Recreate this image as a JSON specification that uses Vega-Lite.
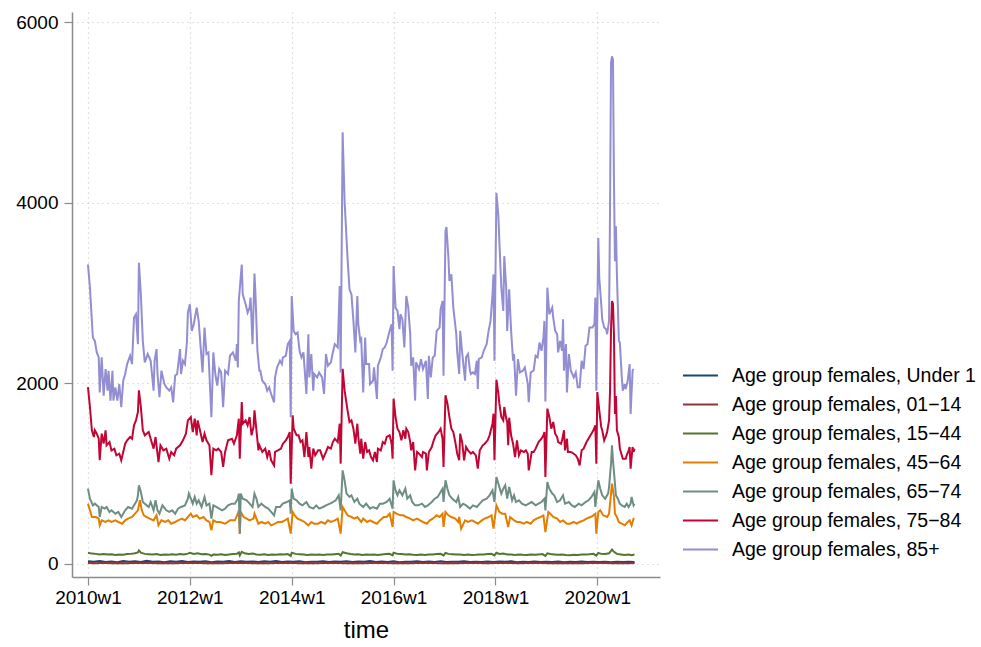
{
"$schema": "https://vega.github.io/schema/vega-lite/v6.json",
"autosize": {"type": "none"},
"padding": {"left": 72, "top": 12, "right": 321, "bottom": 70},
"width": 588,
"height": 565,
"background": "white",
"config": {
  "font": "Liberation Sans",
  "view": {"stroke": null},
  "axis": {"labelFont": "Liberation Sans", "titleFont": "Liberation Sans", "labelColor": "#000", "titleColor": "#000", "domainColor": "#8c8c8c", "domainWidth": 1.5, "tickColor": "#8c8c8c", "tickWidth": 1.2, "tickSize": 8, "gridColor": "#c4c4c4", "gridDash": [1, 4], "gridWidth": 1.2, "labelFontSize": 19, "titleFontWeight": "normal"},
  "legend": {"labelFont": "Liberation Sans", "labelFontSize": 19.5, "labelColor": "#000", "padding": 0, "labelLimit": 0}
},
"encoding": {
  "x": {"field": "t", "type": "quantitative", "scale": {"domain": [-16.3, 584], "nice": false, "zero": false}, "axis": {"values": [0, 104, 208, 312, 416, 520], "labelExpr": "(2010 + floor(datum.value/52)) + 'w1'", "title": "time", "titleFontSize": 24, "titlePadding": 11, "labelPadding": 3, "grid": true}},
  "y": {"field": "v", "type": "quantitative", "scale": {"domain": [-144, 6111], "nice": false, "zero": false}, "axis": {"values": [0, 2000, 4000, 6000], "format": "d", "title": null, "grid": true, "labelPadding": 6}}
},
"layer": [
{"data": {"values": [{"t":0,"v":30},{"t":6,"v":24},{"t":12,"v":34},{"t":18,"v":22},{"t":24,"v":28},{"t":30,"v":20},{"t":36,"v":32},{"t":42,"v":25},{"t":48,"v":30},{"t":54,"v":22},{"t":60,"v":35},{"t":66,"v":24},{"t":72,"v":28},{"t":78,"v":20},{"t":84,"v":30},{"t":90,"v":26},{"t":96,"v":33},{"t":102,"v":22},{"t":108,"v":28},{"t":114,"v":24},{"t":120,"v":30},{"t":126,"v":20},{"t":132,"v":27},{"t":138,"v":25},{"t":144,"v":32},{"t":150,"v":22},{"t":156,"v":30},{"t":162,"v":24},{"t":168,"v":28},{"t":174,"v":21},{"t":180,"v":30},{"t":186,"v":25},{"t":192,"v":33},{"t":198,"v":22},{"t":204,"v":28},{"t":210,"v":24},{"t":216,"v":30},{"t":222,"v":20},{"t":228,"v":26},{"t":234,"v":24},{"t":240,"v":31},{"t":246,"v":22},{"t":252,"v":28},{"t":258,"v":25},{"t":264,"v":30},{"t":270,"v":21},{"t":276,"v":27},{"t":282,"v":24},{"t":288,"v":32},{"t":294,"v":22},{"t":300,"v":27},{"t":306,"v":23},{"t":312,"v":30},{"t":318,"v":20},{"t":324,"v":26},{"t":330,"v":24},{"t":336,"v":29},{"t":342,"v":21},{"t":348,"v":27},{"t":354,"v":23},{"t":360,"v":30},{"t":366,"v":22},{"t":372,"v":26},{"t":378,"v":24},{"t":384,"v":30},{"t":390,"v":21},{"t":396,"v":26},{"t":402,"v":23},{"t":408,"v":28},{"t":414,"v":21},{"t":420,"v":27},{"t":426,"v":24},{"t":432,"v":29},{"t":438,"v":20},{"t":444,"v":26},{"t":450,"v":23},{"t":456,"v":28},{"t":462,"v":21},{"t":468,"v":26},{"t":474,"v":23},{"t":480,"v":28},{"t":486,"v":20},{"t":492,"v":25},{"t":498,"v":22},{"t":504,"v":27},{"t":510,"v":21},{"t":516,"v":25},{"t":522,"v":22},{"t":528,"v":26},{"t":534,"v":20},{"t":540,"v":25},{"t":546,"v":22},{"t":552,"v":26},{"t":558,"v":23}]},
 "mark": {"type": "line", "strokeWidth": 2, "clip": true},
 "encoding": {"color": {"datum": "Age group females, Under 1", "scale": {"domain": ["Age group females, Under 1", "Age group females, 01\u221214", "Age group females, 15\u221244", "Age group females, 45\u221264", "Age group females, 65\u221274", "Age group females, 75\u221284", "Age group females, 85+"], "range": ["#1a476f", "#90353b", "#55752f", "#e37e00", "#6e8e84", "#c10534", "#938dd2"]}, "legend": {"title": null, "orient": "none", "legendX": 610, "legendY": 345, "symbolType": "stroke", "symbolSize": 1225, "symbolStrokeWidth": 2, "labelOffset": 13, "rowPadding": 1}}}},
{"data": {"values": [{"t":0,"v":12},{"t":8,"v":9},{"t":16,"v":13},{"t":24,"v":8},{"t":32,"v":11},{"t":40,"v":9},{"t":48,"v":13},{"t":56,"v":10},{"t":64,"v":12},{"t":72,"v":8},{"t":80,"v":11},{"t":88,"v":9},{"t":96,"v":12},{"t":104,"v":10},{"t":112,"v":13},{"t":120,"v":9},{"t":128,"v":11},{"t":136,"v":8},{"t":144,"v":12},{"t":152,"v":10},{"t":160,"v":13},{"t":168,"v":9},{"t":176,"v":11},{"t":184,"v":8},{"t":192,"v":12},{"t":200,"v":10},{"t":208,"v":13},{"t":216,"v":9},{"t":224,"v":11},{"t":232,"v":8},{"t":240,"v":12},{"t":248,"v":10},{"t":256,"v":12},{"t":264,"v":9},{"t":272,"v":11},{"t":280,"v":8},{"t":288,"v":12},{"t":296,"v":10},{"t":304,"v":11},{"t":312,"v":9},{"t":320,"v":12},{"t":328,"v":8},{"t":336,"v":11},{"t":344,"v":10},{"t":352,"v":12},{"t":360,"v":9},{"t":368,"v":11},{"t":376,"v":8},{"t":384,"v":12},{"t":392,"v":10},{"t":400,"v":11},{"t":408,"v":9},{"t":416,"v":12},{"t":424,"v":10},{"t":432,"v":11},{"t":440,"v":8},{"t":448,"v":12},{"t":456,"v":10},{"t":464,"v":11},{"t":472,"v":9},{"t":480,"v":12},{"t":488,"v":8},{"t":496,"v":10},{"t":504,"v":9},{"t":512,"v":11},{"t":520,"v":10},{"t":528,"v":12},{"t":536,"v":9},{"t":544,"v":11},{"t":552,"v":8},{"t":558,"v":10}]},
 "mark": {"type": "line", "strokeWidth": 2, "clip": true},
 "encoding": {"color": {"datum": "Age group females, 01\u221214"}}},
{"data": {"values": [{"t":0,"v":125},{"t":4,"v":115},{"t":8,"v":112},{"t":12,"v":105},{"t":16,"v":110},{"t":20,"v":104},{"t":24,"v":108},{"t":28,"v":100},{"t":32,"v":106},{"t":36,"v":103},{"t":40,"v":110},{"t":44,"v":112},{"t":48,"v":120},{"t":51,"v":128},{"t":52,"v":150},{"t":54,"v":125},{"t":58,"v":112},{"t":62,"v":108},{"t":66,"v":104},{"t":70,"v":110},{"t":74,"v":100},{"t":78,"v":106},{"t":82,"v":102},{"t":86,"v":108},{"t":90,"v":103},{"t":94,"v":110},{"t":98,"v":106},{"t":102,"v":115},{"t":104,"v":125},{"t":108,"v":112},{"t":112,"v":118},{"t":116,"v":108},{"t":120,"v":110},{"t":124,"v":104},{"t":126,"v":90},{"t":128,"v":106},{"t":132,"v":102},{"t":136,"v":108},{"t":140,"v":100},{"t":144,"v":106},{"t":148,"v":110},{"t":152,"v":112},{"t":154,"v":128},{"t":155,"v":95},{"t":157,"v":135},{"t":160,"v":118},{"t":164,"v":112},{"t":168,"v":115},{"t":172,"v":106},{"t":176,"v":102},{"t":180,"v":108},{"t":184,"v":100},{"t":188,"v":104},{"t":192,"v":102},{"t":196,"v":108},{"t":200,"v":104},{"t":204,"v":110},{"t":207,"v":90},{"t":208,"v":125},{"t":212,"v":112},{"t":216,"v":108},{"t":220,"v":104},{"t":224,"v":100},{"t":228,"v":106},{"t":232,"v":102},{"t":236,"v":104},{"t":240,"v":100},{"t":244,"v":106},{"t":248,"v":104},{"t":252,"v":108},{"t":256,"v":112},{"t":258,"v":95},{"t":260,"v":130},{"t":264,"v":118},{"t":268,"v":110},{"t":272,"v":104},{"t":276,"v":108},{"t":280,"v":100},{"t":284,"v":106},{"t":288,"v":102},{"t":292,"v":104},{"t":296,"v":100},{"t":300,"v":106},{"t":304,"v":110},{"t":308,"v":112},{"t":311,"v":95},{"t":312,"v":125},{"t":316,"v":112},{"t":320,"v":110},{"t":324,"v":106},{"t":328,"v":108},{"t":332,"v":102},{"t":336,"v":100},{"t":340,"v":104},{"t":344,"v":100},{"t":348,"v":106},{"t":352,"v":104},{"t":356,"v":110},{"t":360,"v":112},{"t":363,"v":95},{"t":365,"v":122},{"t":368,"v":112},{"t":372,"v":108},{"t":376,"v":104},{"t":380,"v":106},{"t":384,"v":100},{"t":388,"v":104},{"t":392,"v":100},{"t":396,"v":102},{"t":400,"v":106},{"t":404,"v":104},{"t":408,"v":110},{"t":412,"v":112},{"t":415,"v":95},{"t":417,"v":125},{"t":420,"v":112},{"t":424,"v":115},{"t":428,"v":106},{"t":432,"v":104},{"t":436,"v":100},{"t":440,"v":106},{"t":444,"v":102},{"t":448,"v":100},{"t":452,"v":104},{"t":456,"v":102},{"t":460,"v":106},{"t":464,"v":110},{"t":467,"v":90},{"t":469,"v":118},{"t":472,"v":110},{"t":476,"v":106},{"t":480,"v":102},{"t":484,"v":104},{"t":488,"v":100},{"t":492,"v":98},{"t":496,"v":102},{"t":500,"v":100},{"t":504,"v":104},{"t":508,"v":106},{"t":512,"v":108},{"t":516,"v":112},{"t":519,"v":92},{"t":521,"v":122},{"t":524,"v":112},{"t":528,"v":110},{"t":532,"v":118},{"t":535,"v":160},{"t":537,"v":135},{"t":540,"v":112},{"t":544,"v":106},{"t":548,"v":100},{"t":552,"v":104},{"t":555,"v":98},{"t":558,"v":106}]},
 "mark": {"type": "line", "strokeWidth": 2, "clip": true},
 "encoding": {"color": {"datum": "Age group females, 15\u221244"}}},
{"data": {"values": [{"t":0,"v":668},{"t":2,"v":594},{"t":4,"v":520},{"t":8,"v":520},{"t":11,"v":502},{"t":12,"v":428},{"t":14,"v":483},{"t":18,"v":465},{"t":21,"v":483},{"t":24,"v":465},{"t":28,"v":483},{"t":31,"v":465},{"t":35,"v":446},{"t":38,"v":483},{"t":41,"v":502},{"t":45,"v":520},{"t":48,"v":557},{"t":51,"v":594},{"t":53,"v":705},{"t":55,"v":594},{"t":57,"v":539},{"t":60,"v":520},{"t":63,"v":502},{"t":67,"v":483},{"t":70,"v":539},{"t":72,"v":428},{"t":75,"v":483},{"t":79,"v":465},{"t":82,"v":483},{"t":85,"v":446},{"t":89,"v":465},{"t":92,"v":483},{"t":96,"v":502},{"t":99,"v":483},{"t":102,"v":520},{"t":105,"v":557},{"t":107,"v":520},{"t":111,"v":539},{"t":114,"v":502},{"t":118,"v":520},{"t":121,"v":483},{"t":124,"v":465},{"t":126,"v":373},{"t":128,"v":483},{"t":131,"v":465},{"t":135,"v":465},{"t":140,"v":446},{"t":145,"v":483},{"t":150,"v":483},{"t":153,"v":557},{"t":154,"v":594},{"t":155,"v":336},{"t":156,"v":576},{"t":159,"v":520},{"t":162,"v":502},{"t":165,"v":483},{"t":169,"v":502},{"t":170,"v":557},{"t":174,"v":446},{"t":177,"v":465},{"t":181,"v":446},{"t":184,"v":465},{"t":187,"v":428},{"t":191,"v":446},{"t":194,"v":465},{"t":198,"v":465},{"t":201,"v":483},{"t":204,"v":502},{"t":207,"v":336},{"t":209,"v":576},{"t":211,"v":539},{"t":214,"v":502},{"t":218,"v":483},{"t":221,"v":465},{"t":225,"v":428},{"t":228,"v":465},{"t":231,"v":446},{"t":235,"v":446},{"t":238,"v":465},{"t":242,"v":446},{"t":245,"v":483},{"t":248,"v":465},{"t":252,"v":483},{"t":255,"v":502},{"t":258,"v":336},{"t":260,"v":631},{"t":263,"v":576},{"t":265,"v":539},{"t":269,"v":520},{"t":272,"v":502},{"t":275,"v":520},{"t":279,"v":465},{"t":281,"v":502},{"t":285,"v":465},{"t":288,"v":483},{"t":291,"v":465},{"t":295,"v":446},{"t":298,"v":483},{"t":302,"v":520},{"t":305,"v":520},{"t":308,"v":557},{"t":311,"v":410},{"t":312,"v":576},{"t":315,"v":557},{"t":319,"v":539},{"t":322,"v":539},{"t":325,"v":520},{"t":329,"v":502},{"t":332,"v":483},{"t":336,"v":502},{"t":339,"v":483},{"t":342,"v":465},{"t":346,"v":446},{"t":349,"v":483},{"t":352,"v":502},{"t":356,"v":539},{"t":359,"v":520},{"t":362,"v":557},{"t":363,"v":410},{"t":365,"v":576},{"t":368,"v":539},{"t":371,"v":520},{"t":375,"v":502},{"t":378,"v":465},{"t":379,"v":520},{"t":381,"v":391},{"t":385,"v":483},{"t":388,"v":465},{"t":392,"v":483},{"t":395,"v":465},{"t":398,"v":446},{"t":402,"v":483},{"t":405,"v":502},{"t":409,"v":520},{"t":412,"v":539},{"t":414,"v":391},{"t":417,"v":649},{"t":420,"v":576},{"t":423,"v":557},{"t":426,"v":557},{"t":429,"v":410},{"t":431,"v":520},{"t":435,"v":483},{"t":438,"v":465},{"t":441,"v":465},{"t":445,"v":446},{"t":448,"v":465},{"t":452,"v":446},{"t":455,"v":483},{"t":458,"v":502},{"t":462,"v":520},{"t":465,"v":539},{"t":467,"v":354},{"t":470,"v":576},{"t":472,"v":557},{"t":475,"v":520},{"t":479,"v":502},{"t":482,"v":465},{"t":485,"v":483},{"t":489,"v":446},{"t":492,"v":446},{"t":496,"v":465},{"t":499,"v":446},{"t":502,"v":465},{"t":506,"v":483},{"t":509,"v":502},{"t":513,"v":520},{"t":516,"v":539},{"t":518,"v":557},{"t":519,"v":336},{"t":521,"v":576},{"t":523,"v":594},{"t":526,"v":539},{"t":530,"v":520},{"t":532,"v":557},{"t":534,"v":779},{"t":535,"v":889},{"t":537,"v":742},{"t":538,"v":557},{"t":540,"v":520},{"t":542,"v":465},{"t":545,"v":446},{"t":548,"v":428},{"t":551,"v":465},{"t":553,"v":483},{"t":555,"v":428},{"t":557,"v":502},{"t":558,"v":502}]},
 "mark": {"type": "line", "strokeWidth": 2, "clip": true},
 "encoding": {"color": {"datum": "Age group females, 45\u221264"}}},
{"data": {"values": [{"t":0,"v":834},{"t":2,"v":723},{"t":5,"v":649},{"t":7,"v":668},{"t":11,"v":631},{"t":12,"v":520},{"t":14,"v":631},{"t":17,"v":613},{"t":19,"v":631},{"t":22,"v":576},{"t":24,"v":594},{"t":28,"v":557},{"t":31,"v":576},{"t":34,"v":520},{"t":38,"v":594},{"t":41,"v":631},{"t":45,"v":613},{"t":48,"v":668},{"t":50,"v":705},{"t":51,"v":760},{"t":52,"v":871},{"t":54,"v":797},{"t":56,"v":686},{"t":58,"v":668},{"t":62,"v":631},{"t":64,"v":686},{"t":67,"v":594},{"t":69,"v":705},{"t":71,"v":594},{"t":73,"v":557},{"t":76,"v":649},{"t":80,"v":594},{"t":83,"v":576},{"t":86,"v":594},{"t":89,"v":557},{"t":92,"v":613},{"t":95,"v":631},{"t":99,"v":649},{"t":102,"v":723},{"t":103,"v":779},{"t":105,"v":723},{"t":107,"v":668},{"t":109,"v":742},{"t":111,"v":668},{"t":113,"v":705},{"t":116,"v":631},{"t":119,"v":742},{"t":121,"v":649},{"t":124,"v":668},{"t":126,"v":502},{"t":128,"v":649},{"t":131,"v":631},{"t":134,"v":613},{"t":137,"v":594},{"t":140,"v":613},{"t":143,"v":649},{"t":147,"v":668},{"t":150,"v":668},{"t":153,"v":723},{"t":154,"v":779},{"t":155,"v":336},{"t":156,"v":779},{"t":158,"v":723},{"t":162,"v":705},{"t":165,"v":668},{"t":168,"v":631},{"t":170,"v":779},{"t":172,"v":723},{"t":174,"v":631},{"t":177,"v":668},{"t":181,"v":631},{"t":184,"v":613},{"t":187,"v":576},{"t":190,"v":539},{"t":192,"v":631},{"t":196,"v":631},{"t":199,"v":668},{"t":203,"v":686},{"t":206,"v":705},{"t":207,"v":557},{"t":208,"v":834},{"t":210,"v":723},{"t":213,"v":705},{"t":216,"v":668},{"t":219,"v":649},{"t":223,"v":686},{"t":226,"v":631},{"t":230,"v":613},{"t":233,"v":649},{"t":236,"v":613},{"t":240,"v":631},{"t":243,"v":649},{"t":247,"v":668},{"t":250,"v":686},{"t":253,"v":705},{"t":256,"v":760},{"t":258,"v":594},{"t":260,"v":1037},{"t":262,"v":926},{"t":264,"v":779},{"t":267,"v":742},{"t":269,"v":760},{"t":272,"v":686},{"t":275,"v":723},{"t":277,"v":668},{"t":281,"v":631},{"t":284,"v":668},{"t":288,"v":613},{"t":291,"v":631},{"t":295,"v":613},{"t":298,"v":668},{"t":301,"v":668},{"t":305,"v":686},{"t":308,"v":723},{"t":311,"v":613},{"t":312,"v":926},{"t":314,"v":815},{"t":316,"v":760},{"t":318,"v":815},{"t":321,"v":760},{"t":324,"v":834},{"t":326,"v":723},{"t":329,"v":760},{"t":331,"v":686},{"t":334,"v":649},{"t":337,"v":649},{"t":341,"v":668},{"t":344,"v":631},{"t":347,"v":649},{"t":351,"v":686},{"t":354,"v":723},{"t":357,"v":742},{"t":360,"v":797},{"t":362,"v":834},{"t":363,"v":686},{"t":365,"v":926},{"t":367,"v":834},{"t":369,"v":760},{"t":372,"v":723},{"t":376,"v":686},{"t":378,"v":742},{"t":380,"v":631},{"t":383,"v":668},{"t":386,"v":649},{"t":390,"v":613},{"t":393,"v":649},{"t":397,"v":631},{"t":400,"v":668},{"t":403,"v":705},{"t":407,"v":723},{"t":410,"v":760},{"t":413,"v":815},{"t":415,"v":686},{"t":417,"v":963},{"t":419,"v":889},{"t":422,"v":779},{"t":424,"v":834},{"t":426,"v":871},{"t":428,"v":723},{"t":430,"v":852},{"t":433,"v":705},{"t":435,"v":760},{"t":437,"v":686},{"t":440,"v":705},{"t":443,"v":668},{"t":447,"v":649},{"t":450,"v":668},{"t":453,"v":686},{"t":457,"v":649},{"t":460,"v":668},{"t":463,"v":686},{"t":466,"v":723},{"t":467,"v":594},{"t":469,"v":908},{"t":471,"v":834},{"t":474,"v":779},{"t":476,"v":760},{"t":479,"v":686},{"t":482,"v":705},{"t":485,"v":760},{"t":487,"v":668},{"t":491,"v":686},{"t":494,"v":649},{"t":497,"v":631},{"t":501,"v":668},{"t":504,"v":649},{"t":508,"v":686},{"t":511,"v":705},{"t":514,"v":742},{"t":517,"v":797},{"t":518,"v":631},{"t":521,"v":926},{"t":523,"v":834},{"t":525,"v":760},{"t":528,"v":723},{"t":531,"v":779},{"t":532,"v":852},{"t":534,"v":1111},{"t":535,"v":1314},{"t":536,"v":1148},{"t":538,"v":889},{"t":539,"v":760},{"t":541,"v":723},{"t":543,"v":668},{"t":545,"v":649},{"t":548,"v":631},{"t":550,"v":668},{"t":552,"v":631},{"t":554,"v":668},{"t":555,"v":742},{"t":557,"v":649},{"t":558,"v":668}]},
 "mark": {"type": "line", "strokeWidth": 2, "clip": true},
 "encoding": {"color": {"datum": "Age group females, 65\u221274"}}},
{"data": {"values": [{"t":0,"v":1959},{"t":2,"v":1738},{"t":4,"v":1480},{"t":6,"v":1406},{"t":7,"v":1480},{"t":9,"v":1443},{"t":11,"v":1387},{"t":12,"v":1148},{"t":14,"v":1443},{"t":16,"v":1332},{"t":18,"v":1480},{"t":19,"v":1314},{"t":22,"v":1350},{"t":24,"v":1258},{"t":27,"v":1277},{"t":29,"v":1203},{"t":32,"v":1221},{"t":34,"v":1148},{"t":36,"v":1240},{"t":38,"v":1332},{"t":40,"v":1369},{"t":43,"v":1406},{"t":45,"v":1387},{"t":47,"v":1535},{"t":49,"v":1590},{"t":51,"v":1683},{"t":52,"v":1922},{"t":54,"v":1738},{"t":56,"v":1480},{"t":58,"v":1424},{"t":62,"v":1461},{"t":64,"v":1387},{"t":67,"v":1277},{"t":69,"v":1406},{"t":72,"v":1129},{"t":74,"v":1314},{"t":77,"v":1258},{"t":80,"v":1277},{"t":83,"v":1166},{"t":85,"v":1240},{"t":88,"v":1203},{"t":90,"v":1277},{"t":94,"v":1314},{"t":97,"v":1369},{"t":100,"v":1443},{"t":102,"v":1590},{"t":105,"v":1627},{"t":107,"v":1461},{"t":109,"v":1609},{"t":111,"v":1424},{"t":112,"v":1590},{"t":114,"v":1498},{"t":117,"v":1350},{"t":119,"v":1443},{"t":121,"v":1369},{"t":124,"v":1314},{"t":126,"v":982},{"t":128,"v":1277},{"t":131,"v":1258},{"t":133,"v":1277},{"t":136,"v":1240},{"t":138,"v":1074},{"t":140,"v":1240},{"t":143,"v":1369},{"t":147,"v":1387},{"t":149,"v":1332},{"t":152,"v":1424},{"t":154,"v":1609},{"t":155,"v":1166},{"t":157,"v":1793},{"t":158,"v":1553},{"t":161,"v":1590},{"t":163,"v":1535},{"t":165,"v":1627},{"t":167,"v":1424},{"t":169,"v":1517},{"t":170,"v":1701},{"t":172,"v":1480},{"t":174,"v":1258},{"t":175,"v":1314},{"t":178,"v":1240},{"t":181,"v":1277},{"t":183,"v":1184},{"t":185,"v":1258},{"t":187,"v":1148},{"t":190,"v":1092},{"t":191,"v":1240},{"t":194,"v":1258},{"t":197,"v":1277},{"t":199,"v":1332},{"t":202,"v":1369},{"t":204,"v":1406},{"t":206,"v":1461},{"t":207,"v":889},{"t":209,"v":1646},{"t":210,"v":1498},{"t":213,"v":1424},{"t":215,"v":1424},{"t":217,"v":1350},{"t":219,"v":1369},{"t":221,"v":1184},{"t":223,"v":1461},{"t":225,"v":1184},{"t":226,"v":1295},{"t":228,"v":1055},{"t":230,"v":1277},{"t":232,"v":1203},{"t":235,"v":1258},{"t":237,"v":1258},{"t":240,"v":1166},{"t":243,"v":1240},{"t":245,"v":1295},{"t":248,"v":1277},{"t":250,"v":1350},{"t":252,"v":1387},{"t":255,"v":1350},{"t":257,"v":1553},{"t":258,"v":1111},{"t":260,"v":2160},{"t":262,"v":1922},{"t":265,"v":1701},{"t":267,"v":1572},{"t":269,"v":1590},{"t":271,"v":1498},{"t":273,"v":1332},{"t":275,"v":1553},{"t":276,"v":1406},{"t":278,"v":1221},{"t":279,"v":1387},{"t":281,"v":1166},{"t":283,"v":1350},{"t":285,"v":1240},{"t":287,"v":1258},{"t":289,"v":1184},{"t":291,"v":1148},{"t":293,"v":1240},{"t":295,"v":1129},{"t":296,"v":1277},{"t":299,"v":1258},{"t":301,"v":1350},{"t":303,"v":1332},{"t":305,"v":1406},{"t":308,"v":1424},{"t":310,"v":1332},{"t":311,"v":1166},{"t":312,"v":1830},{"t":314,"v":1627},{"t":316,"v":1498},{"t":318,"v":1461},{"t":320,"v":1369},{"t":322,"v":1480},{"t":324,"v":1387},{"t":325,"v":1498},{"t":327,"v":1461},{"t":329,"v":1350},{"t":330,"v":1258},{"t":332,"v":1350},{"t":334,"v":1037},{"t":336,"v":1240},{"t":338,"v":1221},{"t":341,"v":1184},{"t":342,"v":1240},{"t":345,"v":1221},{"t":346,"v":1037},{"t":348,"v":1240},{"t":351,"v":1295},{"t":353,"v":1369},{"t":355,"v":1424},{"t":358,"v":1461},{"t":360,"v":1498},{"t":362,"v":1387},{"t":363,"v":1074},{"t":365,"v":1867},{"t":367,"v":1775},{"t":369,"v":1627},{"t":371,"v":1498},{"t":373,"v":1461},{"t":375,"v":1350},{"t":377,"v":1221},{"t":379,"v":1148},{"t":380,"v":1443},{"t":382,"v":1350},{"t":384,"v":1148},{"t":386,"v":1295},{"t":388,"v":1258},{"t":391,"v":1221},{"t":393,"v":1240},{"t":396,"v":1203},{"t":398,"v":1055},{"t":400,"v":1258},{"t":403,"v":1314},{"t":405,"v":1332},{"t":408,"v":1369},{"t":410,"v":1424},{"t":413,"v":1553},{"t":414,"v":1664},{"t":415,"v":1148},{"t":417,"v":2040},{"t":419,"v":1886},{"t":420,"v":1775},{"t":422,"v":1627},{"t":424,"v":1590},{"t":425,"v":1738},{"t":427,"v":1609},{"t":428,"v":1572},{"t":429,"v":1314},{"t":430,"v":1620},{"t":432,"v":1424},{"t":434,"v":1332},{"t":436,"v":1184},{"t":438,"v":1369},{"t":440,"v":1203},{"t":442,"v":1258},{"t":445,"v":1240},{"t":447,"v":1258},{"t":449,"v":1221},{"t":450,"v":1037},{"t":453,"v":1240},{"t":455,"v":1240},{"t":457,"v":1277},{"t":460,"v":1350},{"t":463,"v":1387},{"t":465,"v":1424},{"t":466,"v":1461},{"t":467,"v":963},{"t":469,"v":1720},{"t":471,"v":1627},{"t":473,"v":1498},{"t":475,"v":1572},{"t":477,"v":1443},{"t":479,"v":1406},{"t":480,"v":1350},{"t":483,"v":1332},{"t":484,"v":1369},{"t":486,"v":1480},{"t":487,"v":1258},{"t":489,"v":1387},{"t":490,"v":1240},{"t":493,"v":1240},{"t":496,"v":1221},{"t":498,"v":1203},{"t":500,"v":1166},{"t":502,"v":1092},{"t":504,"v":1258},{"t":506,"v":1277},{"t":509,"v":1350},{"t":512,"v":1406},{"t":514,"v":1443},{"t":516,"v":1480},{"t":518,"v":1535},{"t":519,"v":1111},{"t":520,"v":1904},{"t":522,"v":1701},{"t":524,"v":1517},{"t":525,"v":1480},{"t":527,"v":1369},{"t":529,"v":1424},{"t":530,"v":1461},{"t":532,"v":1590},{"t":533,"v":1922},{"t":534,"v":2600},{"t":535,"v":2910},{"t":536,"v":2880},{"t":537,"v":2540},{"t":538,"v":1660},{"t":539,"v":1860},{"t":540,"v":1480},{"t":541,"v":1443},{"t":542,"v":1406},{"t":543,"v":1277},{"t":545,"v":1203},{"t":546,"v":1166},{"t":549,"v":1166},{"t":550,"v":1203},{"t":552,"v":1258},{"t":553,"v":1295},{"t":554,"v":1055},{"t":556,"v":1295},{"t":557,"v":1240},{"t":558,"v":1277}]},
 "mark": {"type": "line", "strokeWidth": 2, "clip": true},
 "encoding": {"color": {"datum": "Age group females, 75\u221284"}}},
{"data": {"values": [{"t":0,"v":3316},{"t":2,"v":3059},{"t":5,"v":2507},{"t":7,"v":2470},{"t":9,"v":2342},{"t":11,"v":2287},{"t":12,"v":1900},{"t":14,"v":2287},{"t":16,"v":1864},{"t":18,"v":2158},{"t":20,"v":1919},{"t":21,"v":2140},{"t":23,"v":1809},{"t":25,"v":2140},{"t":26,"v":1809},{"t":28,"v":1956},{"t":30,"v":1809},{"t":32,"v":1993},{"t":34,"v":1735},{"t":36,"v":2029},{"t":38,"v":2103},{"t":40,"v":2213},{"t":43,"v":2305},{"t":45,"v":2213},{"t":47,"v":2728},{"t":49,"v":2765},{"t":51,"v":2434},{"t":52,"v":3335},{"t":54,"v":2985},{"t":56,"v":2470},{"t":58,"v":2232},{"t":61,"v":2324},{"t":64,"v":2250},{"t":67,"v":1919},{"t":68,"v":2250},{"t":70,"v":2379},{"t":71,"v":2103},{"t":73,"v":1846},{"t":75,"v":2140},{"t":78,"v":1993},{"t":80,"v":1956},{"t":83,"v":1919},{"t":85,"v":1956},{"t":87,"v":1790},{"t":89,"v":2085},{"t":91,"v":2103},{"t":94,"v":2379},{"t":95,"v":2103},{"t":97,"v":2250},{"t":99,"v":2213},{"t":101,"v":2452},{"t":102,"v":2783},{"t":104,"v":2875},{"t":106,"v":2581},{"t":108,"v":2654},{"t":111,"v":2838},{"t":113,"v":2691},{"t":117,"v":2121},{"t":119,"v":2618},{"t":121,"v":2324},{"t":123,"v":2342},{"t":126,"v":1625},{"t":128,"v":2342},{"t":130,"v":2103},{"t":132,"v":1974},{"t":134,"v":2158},{"t":136,"v":2121},{"t":138,"v":1735},{"t":140,"v":2140},{"t":143,"v":2103},{"t":145,"v":2305},{"t":148,"v":2342},{"t":151,"v":2250},{"t":152,"v":2434},{"t":153,"v":2176},{"t":154,"v":2912},{"t":157,"v":3316},{"t":158,"v":2985},{"t":161,"v":2875},{"t":163,"v":2783},{"t":165,"v":2838},{"t":166,"v":2949},{"t":168,"v":2434},{"t":170,"v":3215},{"t":171,"v":2985},{"t":173,"v":2360},{"t":175,"v":2140},{"t":176,"v":2140},{"t":178,"v":2029},{"t":181,"v":1993},{"t":183,"v":1919},{"t":185,"v":1956},{"t":187,"v":1882},{"t":190,"v":1790},{"t":191,"v":2066},{"t":193,"v":2176},{"t":196,"v":2250},{"t":198,"v":2213},{"t":199,"v":2287},{"t":202,"v":2305},{"t":204,"v":2434},{"t":206,"v":2470},{"t":207,"v":1625},{"t":208,"v":2967},{"t":210,"v":2581},{"t":212,"v":2544},{"t":214,"v":2562},{"t":216,"v":2360},{"t":218,"v":2287},{"t":220,"v":2342},{"t":223,"v":1882},{"t":225,"v":2544},{"t":226,"v":2066},{"t":228,"v":2324},{"t":230,"v":1919},{"t":231,"v":2103},{"t":234,"v":2066},{"t":236,"v":2121},{"t":239,"v":2066},{"t":241,"v":1882},{"t":243,"v":2324},{"t":245,"v":2195},{"t":248,"v":2232},{"t":250,"v":2342},{"t":252,"v":2434},{"t":255,"v":2397},{"t":257,"v":3077},{"t":258,"v":2121},{"t":260,"v":4780},{"t":262,"v":4015},{"t":265,"v":3390},{"t":267,"v":3041},{"t":269,"v":2985},{"t":271,"v":2691},{"t":273,"v":2342},{"t":275,"v":2967},{"t":276,"v":2654},{"t":278,"v":2470},{"t":279,"v":2489},{"t":281,"v":1900},{"t":283,"v":2507},{"t":284,"v":2213},{"t":287,"v":2213},{"t":288,"v":1993},{"t":291,"v":2029},{"t":292,"v":2176},{"t":295,"v":1827},{"t":296,"v":2195},{"t":299,"v":2287},{"t":301,"v":2379},{"t":303,"v":2397},{"t":305,"v":2452},{"t":308,"v":2581},{"t":310,"v":2654},{"t":311,"v":2140},{"t":312,"v":3298},{"t":314,"v":2838},{"t":316,"v":2802},{"t":318,"v":2599},{"t":319,"v":2765},{"t":321,"v":2710},{"t":323,"v":2397},{"t":325,"v":2967},{"t":327,"v":2838},{"t":329,"v":2544},{"t":330,"v":2195},{"t":332,"v":2287},{"t":334,"v":1809},{"t":335,"v":2232},{"t":338,"v":2158},{"t":340,"v":2268},{"t":342,"v":2158},{"t":345,"v":2250},{"t":347,"v":1827},{"t":348,"v":2305},{"t":350,"v":2066},{"t":352,"v":2287},{"t":354,"v":2305},{"t":356,"v":2581},{"t":359,"v":2618},{"t":360,"v":2820},{"t":362,"v":2912},{"t":363,"v":2085},{"t":365,"v":3684},{"t":366,"v":3730},{"t":368,"v":3390},{"t":369,"v":3133},{"t":371,"v":3206},{"t":373,"v":2838},{"t":376,"v":2544},{"t":377,"v":2342},{"t":379,"v":2103},{"t":380,"v":2581},{"t":382,"v":2342},{"t":385,"v":2029},{"t":386,"v":2287},{"t":388,"v":2324},{"t":390,"v":2140},{"t":391,"v":2103},{"t":393,"v":2121},{"t":395,"v":2103},{"t":397,"v":2250},{"t":398,"v":1937},{"t":399,"v":2268},{"t":402,"v":2287},{"t":404,"v":2360},{"t":407,"v":2434},{"t":409,"v":2581},{"t":411,"v":2691},{"t":413,"v":2985},{"t":414,"v":3206},{"t":415,"v":2250},{"t":417,"v":4110},{"t":419,"v":3850},{"t":420,"v":3574},{"t":422,"v":3059},{"t":424,"v":2802},{"t":425,"v":3408},{"t":427,"v":3059},{"t":428,"v":2581},{"t":430,"v":3041},{"t":432,"v":2581},{"t":434,"v":2250},{"t":435,"v":2324},{"t":437,"v":1864},{"t":439,"v":2268},{"t":441,"v":2121},{"t":444,"v":2140},{"t":446,"v":2176},{"t":449,"v":1993},{"t":450,"v":1790},{"t":452,"v":2121},{"t":455,"v":2140},{"t":457,"v":2305},{"t":459,"v":2287},{"t":461,"v":2452},{"t":463,"v":2360},{"t":465,"v":2507},{"t":466,"v":2691},{"t":467,"v":1800},{"t":469,"v":3059},{"t":471,"v":2765},{"t":474,"v":2838},{"t":475,"v":2728},{"t":477,"v":2581},{"t":479,"v":2544},{"t":480,"v":2342},{"t":482,"v":2470},{"t":484,"v":2360},{"t":485,"v":2710},{"t":486,"v":2140},{"t":488,"v":2434},{"t":489,"v":1900},{"t":491,"v":2324},{"t":493,"v":2140},{"t":496,"v":2066},{"t":498,"v":2121},{"t":500,"v":1956},{"t":502,"v":1956},{"t":504,"v":2250},{"t":506,"v":2158},{"t":508,"v":2415},{"t":510,"v":2434},{"t":512,"v":2618},{"t":515,"v":2618},{"t":517,"v":2654},{"t":518,"v":2949},{"t":519,"v":1919},{"t":521,"v":3610},{"t":522,"v":3169},{"t":524,"v":2875},{"t":525,"v":2710},{"t":527,"v":2618},{"t":529,"v":2599},{"t":530,"v":2544},{"t":532,"v":2691},{"t":533,"v":3941},{"t":534,"v":5550},{"t":535,"v":5620},{"t":536,"v":5580},{"t":537,"v":4236},{"t":538,"v":3353},{"t":539,"v":3739},{"t":540,"v":3206},{"t":542,"v":2470},{"t":543,"v":2452},{"t":545,"v":2066},{"t":546,"v":1919},{"t":548,"v":1993},{"t":549,"v":1937},{"t":551,"v":2029},{"t":553,"v":2213},{"t":554,"v":1662},{"t":556,"v":2140},{"t":557,"v":2158}]},
 "mark": {"type": "line", "strokeWidth": 2, "clip": true},
 "encoding": {"color": {"datum": "Age group females, 85+"}}}
]
}
